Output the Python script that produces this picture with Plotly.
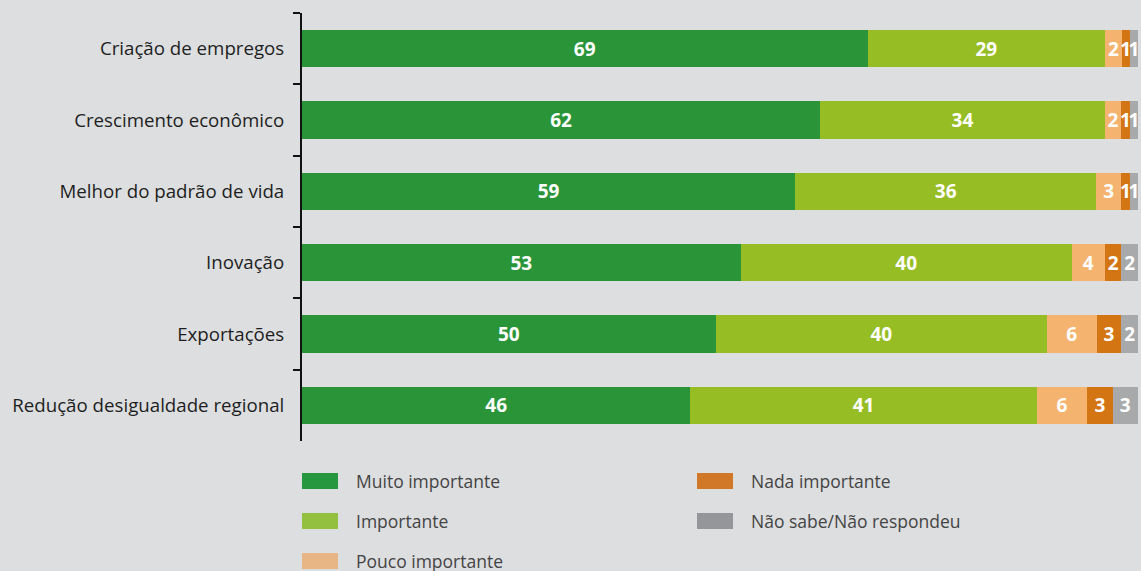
import plotly.graph_objects as go

categories = [
    "Criação de empregos",
    "Crescimento econômico",
    "Melhor do padrão de vida",
    "Inovação",
    "Exportações",
    "Redução desigualdade regional",
]
muito_importante = [69, 62, 59, 53, 50, 46]
importante = [29, 34, 36, 40, 40, 41]
pouco_importante = [2, 2, 3, 4, 6, 6]
nada_importante = [1, 1, 1, 2, 3, 3]
nao_sabe = [1, 1, 1, 2, 2, 3]

series_names = ["Muito importante", "Importante", "Pouco importante",
                "Nada importante", "Não sabe/Não respondeu"]
series_values = [muito_importante, importante, pouco_importante,
                 nada_importante, nao_sabe]
colors = ["#2a9439", "#96bd24", "#f4b46f", "#d27512", "#a8a9ab"]
legend_swatch_colors = ["#27973f", "#93c03f", "#e8b585", "#d07828", "#959699"]

FONT = "Open Sans"
W, H = 1141, 571
ML, MR, MT, MB = 302, 3, 13, 130
PW = W - ML - MR
PH = H - MT - MB

fig = go.Figure()
for name, vals, col in zip(series_names, series_values, colors):
    fig.add_trace(go.Bar(
        y=categories, x=vals, name=name, orientation="h",
        marker=dict(color=col, line=dict(width=0)),
        text=[str(v) for v in vals], textposition="inside",
        insidetextanchor="middle",
        textfont=dict(family=FONT, size=19, color="white", weight="bold"),
        showlegend=False,
        hoverinfo="skip",
    ))

# Legend drawn in two columns (column-major), as in the reference
def px_x(px):
    return (px - ML) / PW

def px_y(py):
    return (H - MB - py) / PH

col_x = [302, 697]
row_y = [481, 521, 561]
for i, (name, sc) in enumerate(zip(series_names, legend_swatch_colors)):
    c, r = divmod(i, 3)
    x0 = col_x[c]
    yc = row_y[r]
    fig.add_shape(type="rect", xref="paper", yref="paper",
                  x0=px_x(x0), x1=px_x(x0 + 36),
                  y0=px_y(yc + 8), y1=px_y(yc - 8),
                  fillcolor=sc, line=dict(width=0))
    fig.add_annotation(xref="paper", yref="paper",
                       x=px_x(x0 + 52), y=px_y(yc),
                       xanchor="left", yanchor="middle",
                       text=name, showarrow=False,
                       font=dict(family=FONT, size=17.5, color="#444444"))

fig.update_layout(
    barmode="stack", barnorm="percent", bargap=0.48,
    width=W, height=H,
    margin=dict(l=ML, r=MR, t=MT, b=MB),
    paper_bgcolor="#dddee0", plot_bgcolor="#dddee0",
    uniformtext=dict(mode="show", minsize=19),
    font=dict(family=FONT, color="#222222"),
    showlegend=False,
    xaxis=dict(visible=False, range=[0, 100], fixedrange=True),
    yaxis=dict(
        categoryorder="array", categoryarray=categories, autorange="reversed",
        showline=True, linecolor="#111111", linewidth=2,
        ticks="outside", ticklen=7, tickwidth=2, tickcolor="#111111",
        tickson="boundaries", ticklabelstandoff=12,
        tickfont=dict(family=FONT, size=18.7, color="#1e1e1e"),
        showgrid=False, zeroline=False,
    ),
)

fig.write_html("out.html", config={"displayModeBar": False},
               post_script="document.body.style.margin='0';document.body.style.overflow='hidden';")
